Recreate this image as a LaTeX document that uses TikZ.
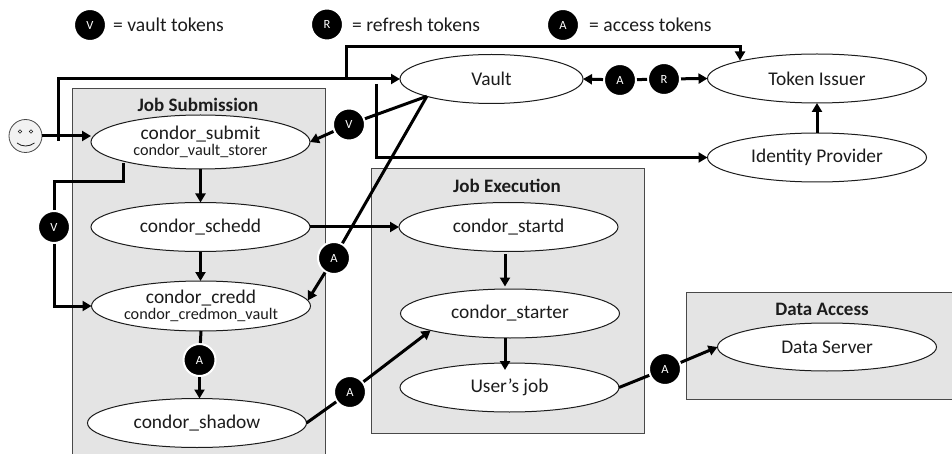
\documentclass[tikz,border=0pt]{standalone}
\usepackage{fontspec}
\setmainfont{Carlito}
\usetikzlibrary{shapes.geometric,arrows.meta}
\definecolor{boxgray}{HTML}{E4E4E4}
\definecolor{ink}{HTML}{1C1C1C}
\tikzset{
  proc/.style={ellipse,draw=ink,fill=white,line width=1pt,inner sep=0pt,outer sep=0pt,minimum width=219pt,minimum height=49pt,align=center,text=ink,font=\fontsize{19.4}{20}\selectfont},
  panel/.style={draw=ink!80,fill=boxgray,line width=1pt},
  paneltitle/.style={font=\fontsize{19}{20}\selectfont\bfseries,text=ink},
  badge/.style={circle,fill=black,draw=white,line width=2pt,minimum size=32pt,inner sep=0pt,outer sep=1pt,text=white,font=\fontsize{12.5}{14}\selectfont},
  legendtext/.style={anchor=west,inner sep=0pt,text=ink,font=\fontsize{19.6}{20}\selectfont},
  conn/.style={line width=3pt,draw=black,-{Triangle[length=9pt,width=10pt]}},
  seg/.style={line width=3pt,draw=black},
}
\newcommand{\subline}[1]{{\fontsize{16.2}{17}\selectfont #1}}
\begin{document}
\begin{tikzpicture}[x=1pt,y=-1pt]
\useasboundingbox (0,0) rectangle (952,454);
% panels
\path[panel] (72.5,89) rectangle (325,470);
\path[panel] (371.5,169) rectangle (644,433);
\path[panel] (686,292) rectangle (970,399);
\node[paneltitle] (t1) at (198,105) {Job Submission};
\node[paneltitle] (t2) at (507,186) {Job Execution};
\node[paneltitle] (t3) at (822,309) {Data Access};
% processes
\node[proc,minimum height=54pt] (submit) at (200.5,142) {condor\_submit\\[-4pt]\subline{condor\_vault\_storer}};
\node[proc] (schedd) at (200.5,227) {condor\_schedd};
\node[proc,minimum height=50pt] (credd) at (201,306) {condor\_credd\\[-4pt]\subline{condor\_credmon\_vault}};
\node[proc] (shadow) at (197,423) {condor\_shadow};
\node[proc,minimum width=183pt] (vault) at (491.5,79) {Vault};
\node[proc] (issuer) at (817,78.5) {Token Issuer};
\node[proc] (idp) at (817,157.5) {Identity Provider};
\node[proc] (startd) at (508.5,227) {condor\_startd};
\node[proc] (starter) at (510,313.5) {condor\_starter};
\node[proc] (job) at (509.5,387.5) {User’s job};
\node[proc,minimum height=48pt] (data) at (827,347) {Data Server};
% smiley
\node[circle,draw=ink!80,fill=black!5,line width=0.8pt,minimum size=33pt,inner sep=0pt,outer sep=0pt] (user) at (25.5,136) {};
\draw[ink,line width=0.6pt,fill=black!5] (20,131.5) circle (1.7) (31,131.5) circle (1.7);
\draw[ink,line width=0.8pt] (17,143) .. controls (22,147) and (29,147) .. (34.5,143);
% legend
\node[badge] (lv) at (90,25) {V};
\node[legendtext] (lvt) at (113,25) {= vault tokens};
\node[badge] (lr) at (327,24.5) {R};
\node[legendtext] (lrt) at (352,25) {= refresh tokens};
\node[badge] (la) at (563,25) {A};
\node[legendtext] (lat) at (589,25) {= access tokens};
% token badges
\node[badge] (v1) at (349,124.5) {V};
\node[badge] (v2) at (54,227) {V};
\node[badge] (a1) at (334,258) {A};
\node[badge] (a2) at (199.5,360) {A};
\node[badge] (a3) at (350,392) {A};
\node[badge] (a4) at (665,369) {A};
\node[badge] (a5) at (620,80) {A};
\node[badge] (r1) at (664,79) {R};
% helper points
\coordinate (userstart) at (58,141);
\coordinate (branch) at (346,79);
\coordinate (issuertop) at (740,60.5);
\coordinate (idpstart) at (376,84);
\coordinate (startdout) at (505,254);
\coordinate (starterin) at (505,286.5);
\coordinate (starterout) at (505,338);
\coordinate (jobin) at (505,370);
\coordinate (submitout) at (123,163);
\coordinate (creddin) at (91.5,306);
% connectors
\draw[conn] (user.east) -- (submit.west |- user.east);
\draw[conn] (userstart) |- (vault.west);
\draw[conn] (branch) |- (issuertop |- 0,46.5) -- (issuertop);
\draw[conn] (idpstart) |- (idp.west);
\draw[conn] (idp.north) -- (issuer.south);
\draw[seg] (submitout) |- (54,182) -- (v2);
\draw[conn] (v2) |- (creddin);
\draw[conn] (submit.south) -- (schedd.north);
\draw[conn] (schedd.south) -- (credd.north -| schedd.south);
\draw[conn] (schedd.east) -- (startd.west);
\draw[seg] (credd.south) -- (a2);
\draw[conn] (a2) -- (shadow.north -| a2);
\draw[conn] (v1) -- (submit.east);
\draw[seg] (v1) -- (vault.195);
\draw[seg] (a1) -- (vault.195);
\draw[conn] (a1) -- (credd.3);
\draw[seg] (shadow.east) -- (a3);
\draw[conn] (a3) -- (starter.192.6);
\draw[conn] (startdout) -- (starterin);
\draw[conn] (starterout) -- (jobin);
\draw[seg] (job.east) -- (a4);
\draw[conn] (a4) -- (data.west);
\draw[conn] (a5) -- (vault.east);
\draw[seg] (a5) -- (r1);
\draw[conn] (r1) -- (issuer.west);
\end{tikzpicture}
\end{document}
